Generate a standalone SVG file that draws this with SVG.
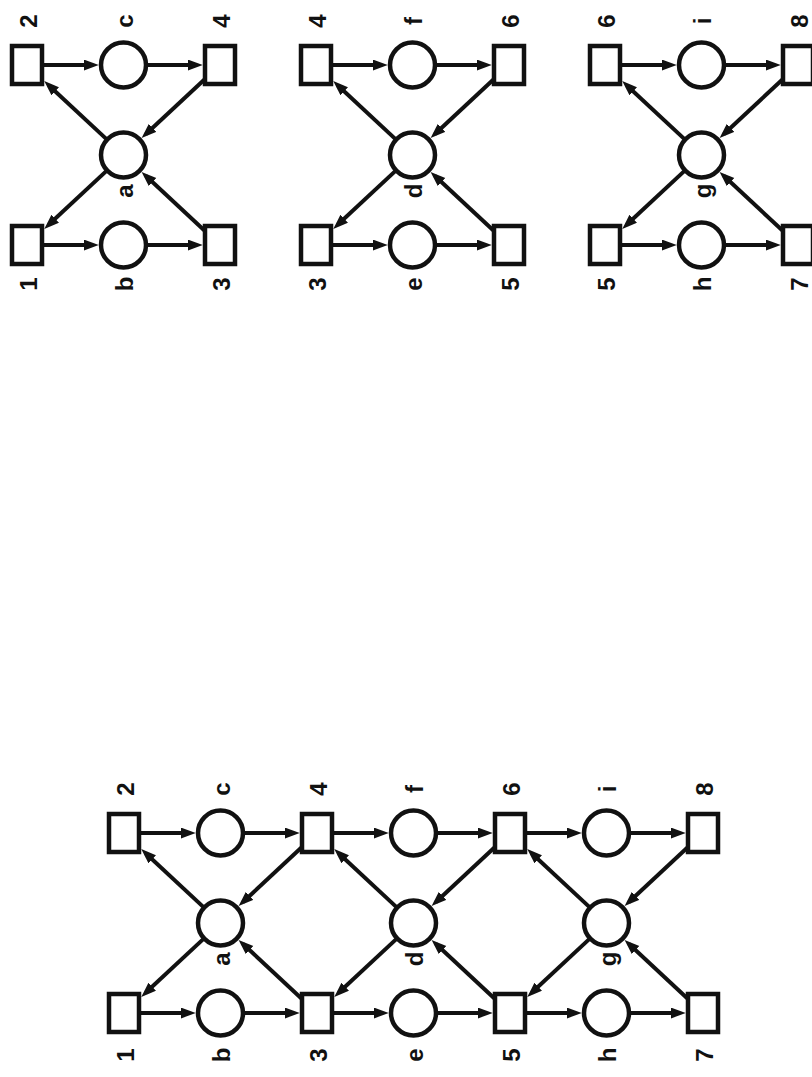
<svg xmlns="http://www.w3.org/2000/svg" width="812" height="1077" viewBox="0 0 812 1077">
<style>
.p{fill:#fff;stroke:#111;stroke-width:4.5}
.t{fill:#fff;stroke:#111;stroke-width:4.5}
.c line{stroke:#111;stroke-width:4;marker-end:url(#ah)}
text{font-family:"Liberation Sans",Arial,sans-serif;font-weight:bold;font-size:24px;fill:#111;text-anchor:middle;dominant-baseline:central}
</style>
<defs>
<marker id="ah" markerUnits="userSpaceOnUse" markerWidth="16" markerHeight="12" refX="9" refY="5.5" orient="auto">
<path d="M0,0 L15,5.5 L0,11 Z" fill="#111"/>
</marker>
</defs>
<rect width="812" height="1077" fill="#fff"/>
<g id="connectors" class="c">
<!-- net A -->
<line x1="42" y1="65" x2="92.75" y2="65"/>
<line x1="146" y1="65" x2="196.75" y2="65"/>
<line x1="42" y1="245" x2="92.75" y2="245"/>
<line x1="146" y1="245" x2="196.75" y2="245"/>
<line x1="107.05" y1="139.65" x2="48.64" y2="85.18"/>
<line x1="107.05" y1="170.35" x2="48.64" y2="224.82"/>
<line x1="205" y1="78.99" x2="145.99" y2="134.03"/>
<line x1="205" y1="231.01" x2="145.99" y2="175.97"/>
<!-- net D -->
<line x1="331" y1="65" x2="381.75" y2="65"/>
<line x1="435" y1="65" x2="485.75" y2="65"/>
<line x1="331" y1="245" x2="381.75" y2="245"/>
<line x1="435" y1="245" x2="485.75" y2="245"/>
<line x1="396.05" y1="139.65" x2="337.64" y2="85.18"/>
<line x1="396.05" y1="170.35" x2="337.64" y2="224.82"/>
<line x1="494" y1="78.99" x2="434.99" y2="134.03"/>
<line x1="494" y1="231.01" x2="434.99" y2="175.97"/>
<!-- net G -->
<line x1="620" y1="65" x2="670.75" y2="65"/>
<line x1="724" y1="65" x2="774.75" y2="65"/>
<line x1="620" y1="245" x2="670.75" y2="245"/>
<line x1="724" y1="245" x2="774.75" y2="245"/>
<line x1="685.05" y1="139.65" x2="626.64" y2="85.18"/>
<line x1="685.05" y1="170.35" x2="626.64" y2="224.82"/>
<line x1="783" y1="78.99" x2="723.99" y2="134.03"/>
<line x1="783" y1="231.01" x2="723.99" y2="175.97"/>
<!-- big net -->
<line x1="139" y1="833" x2="189.75" y2="833"/>
<line x1="243" y1="833" x2="293.75" y2="833"/>
<line x1="139" y1="1013" x2="189.75" y2="1013"/>
<line x1="243" y1="1013" x2="293.75" y2="1013"/>
<line x1="204.05" y1="907.65" x2="145.64" y2="853.18"/>
<line x1="204.05" y1="938.35" x2="145.64" y2="992.82"/>
<line x1="302" y1="846.99" x2="242.99" y2="902.03"/>
<line x1="302" y1="999.01" x2="242.99" y2="943.97"/>
<line x1="332" y1="833" x2="382.75" y2="833"/>
<line x1="436" y1="833" x2="486.75" y2="833"/>
<line x1="332" y1="1013" x2="382.75" y2="1013"/>
<line x1="436" y1="1013" x2="486.75" y2="1013"/>
<line x1="397.05" y1="907.65" x2="338.64" y2="853.18"/>
<line x1="397.05" y1="938.35" x2="338.64" y2="992.82"/>
<line x1="495" y1="846.99" x2="435.99" y2="902.03"/>
<line x1="495" y1="999.01" x2="435.99" y2="943.97"/>
<line x1="525" y1="833" x2="575.75" y2="833"/>
<line x1="629" y1="833" x2="679.75" y2="833"/>
<line x1="525" y1="1013" x2="575.75" y2="1013"/>
<line x1="629" y1="1013" x2="679.75" y2="1013"/>
<line x1="590.05" y1="907.65" x2="531.64" y2="853.18"/>
<line x1="590.05" y1="938.35" x2="531.64" y2="992.82"/>
<line x1="688" y1="846.99" x2="628.99" y2="902.03"/>
<line x1="688" y1="999.01" x2="628.99" y2="943.97"/>
</g>
<!-- net A -->
<g id="A-t2"><rect class="t" x="12" y="46" width="30" height="38"/><text transform="translate(28,21) rotate(-90)">2</text></g>
<g id="A-pc"><circle class="p" cx="123.5" cy="65" r="22.5"/><text transform="translate(124,21) rotate(-90)">c</text></g>
<g id="A-t4"><rect class="t" x="205" y="46" width="30" height="38"/><text transform="translate(221,21) rotate(-90)">4</text></g>
<g id="A-pa"><circle class="p" cx="123.5" cy="155" r="22.5"/><text transform="translate(124,191) rotate(-90)">a</text></g>
<g id="A-t1"><rect class="t" x="12" y="226" width="30" height="38"/><text transform="translate(28,284) rotate(-90)">1</text></g>
<g id="A-pb"><circle class="p" cx="123.5" cy="245" r="22.5"/><text transform="translate(124,284) rotate(-90)">b</text></g>
<g id="A-t3"><rect class="t" x="205" y="226" width="30" height="38"/><text transform="translate(221,284) rotate(-90)">3</text></g>
<!-- net D -->
<g id="D-t4"><rect class="t" x="301" y="46" width="30" height="38"/><text transform="translate(317,21) rotate(-90)">4</text></g>
<g id="D-pf"><circle class="p" cx="412.5" cy="65" r="22.5"/><text transform="translate(413,21) rotate(-90)">f</text></g>
<g id="D-t6"><rect class="t" x="494" y="46" width="30" height="38"/><text transform="translate(510,21) rotate(-90)">6</text></g>
<g id="D-pd"><circle class="p" cx="412.5" cy="155" r="22.5"/><text transform="translate(413,191) rotate(-90)">d</text></g>
<g id="D-t3"><rect class="t" x="301" y="226" width="30" height="38"/><text transform="translate(317,284) rotate(-90)">3</text></g>
<g id="D-pe"><circle class="p" cx="412.5" cy="245" r="22.5"/><text transform="translate(413,284) rotate(-90)">e</text></g>
<g id="D-t5"><rect class="t" x="494" y="226" width="30" height="38"/><text transform="translate(510,284) rotate(-90)">5</text></g>
<!-- net G -->
<g id="G-t6"><rect class="t" x="590" y="46" width="30" height="38"/><text transform="translate(606,21) rotate(-90)">6</text></g>
<g id="G-pi"><circle class="p" cx="701.5" cy="65" r="22.5"/><text transform="translate(702,21) rotate(-90)">i</text></g>
<g id="G-t8"><rect class="t" x="783" y="46" width="30" height="38"/><text transform="translate(799,21) rotate(-90)">8</text></g>
<g id="G-pg"><circle class="p" cx="701.5" cy="155" r="22.5"/><text transform="translate(702,191) rotate(-90)">g</text></g>
<g id="G-t5"><rect class="t" x="590" y="226" width="30" height="38"/><text transform="translate(606,284) rotate(-90)">5</text></g>
<g id="G-ph"><circle class="p" cx="701.5" cy="245" r="22.5"/><text transform="translate(702,284) rotate(-90)">h</text></g>
<g id="G-t7"><rect class="t" x="783" y="226" width="30" height="38"/><text transform="translate(799,284) rotate(-90)">7</text></g>
<!-- big net -->
<g id="N-t2"><rect class="t" x="109" y="814" width="30" height="38"/><text transform="translate(125,789) rotate(-90)">2</text></g>
<g id="N-pc"><circle class="p" cx="220.5" cy="833" r="22.5"/><text transform="translate(221,789) rotate(-90)">c</text></g>
<g id="N-t4"><rect class="t" x="302" y="814" width="30" height="38"/><text transform="translate(318,789) rotate(-90)">4</text></g>
<g id="N-pf"><circle class="p" cx="413.5" cy="833" r="22.5"/><text transform="translate(414,789) rotate(-90)">f</text></g>
<g id="N-t6"><rect class="t" x="495" y="814" width="30" height="38"/><text transform="translate(511,789) rotate(-90)">6</text></g>
<g id="N-pi"><circle class="p" cx="606.5" cy="833" r="22.5"/><text transform="translate(607,789) rotate(-90)">i</text></g>
<g id="N-t8"><rect class="t" x="688" y="814" width="30" height="38"/><text transform="translate(704,789) rotate(-90)">8</text></g>
<g id="N-pa"><circle class="p" cx="220.5" cy="923" r="22.5"/><text transform="translate(221,959) rotate(-90)">a</text></g>
<g id="N-pd"><circle class="p" cx="413.5" cy="923" r="22.5"/><text transform="translate(414,959) rotate(-90)">d</text></g>
<g id="N-pg"><circle class="p" cx="606.5" cy="923" r="22.5"/><text transform="translate(607,959) rotate(-90)">g</text></g>
<g id="N-t1"><rect class="t" x="109" y="994" width="30" height="38"/><text transform="translate(125,1055) rotate(-90)">1</text></g>
<g id="N-pb"><circle class="p" cx="220.5" cy="1013" r="22.5"/><text transform="translate(221,1055) rotate(-90)">b</text></g>
<g id="N-t3"><rect class="t" x="302" y="994" width="30" height="38"/><text transform="translate(318,1055) rotate(-90)">3</text></g>
<g id="N-pe"><circle class="p" cx="413.5" cy="1013" r="22.5"/><text transform="translate(414,1055) rotate(-90)">e</text></g>
<g id="N-t5"><rect class="t" x="495" y="994" width="30" height="38"/><text transform="translate(511,1055) rotate(-90)">5</text></g>
<g id="N-ph"><circle class="p" cx="606.5" cy="1013" r="22.5"/><text transform="translate(607,1055) rotate(-90)">h</text></g>
<g id="N-t7"><rect class="t" x="688" y="994" width="30" height="38"/><text transform="translate(704,1055) rotate(-90)">7</text></g>
</svg>
